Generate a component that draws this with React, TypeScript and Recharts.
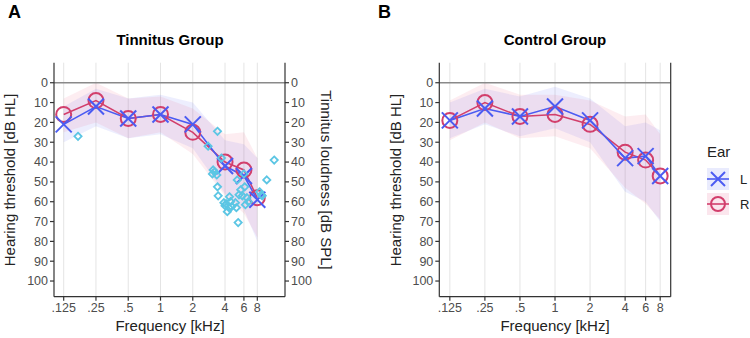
import React from "react";
import {
  ComposedChart,
  Line,
  Area,
  Scatter,
  XAxis,
  YAxis,
  CartesianGrid,
  ReferenceLine,
} from "recharts";

// audiogram frequencies (kHz) and their tick labels
const freqs = [0.125, 0.25, 0.5, 1, 2, 4, 6, 8];
const freqLabels = [".125", ".25", ".5", "1", "2", "4", "6", "8"];
const dbTicks = [0, 10, 20, 30, 40, 50, 60, 70, 80, 90, 100];

// tinnitus group: mean thresholds per ear + spread band
const tinL = [21, 12, 18, 16, 21, 42, 47, 59];
const tinR = [16, 9, 18, 16, 25, 40, 44, 58];
const tinLBand = [[12, 30], [3, 22], [8, 28], [6, 26], [10, 33], [29, 56], [31, 64], [38, 80]];
const tinRBand = [[8, 25], [0, 20], [8, 28], [7, 25], [13, 36], [26, 57], [25, 66], [38, 78]];

// control group
const ctrlL = [19, 13, 17, 12, 19, 38, 37, 47];
const ctrlR = [19, 10, 17, 16, 21, 35, 39, 47];
const ctrlLBand = [[10, 28], [3, 21], [7, 27], [2, 23], [8, 30], [22, 55], [20, 60], [24, 70]];
const ctrlRBand = [[9, 29], [0, 20], [6, 28], [6, 27], [9, 33], [17, 53], [16, 61], [26, 69]];

// tinnitus pitch (kHz) and loudness (dB SPL)
const tinnitusFreq = [0.17, 2.78, 3.4, 3.7, 3.05, 3.2, 3.35, 3.1, 3.4, 3.45, 3.9, 4.0, 4.1, 4.2, 4.35, 4.4, 4.6, 4.5, 5.0, 5.1, 5.2, 5.3, 5.4, 5.6, 5.8, 6.0, 6.1, 6.2, 6.4, 6.6, 8.4, 8.7, 8.9, 9.8, 11.5];
const tinnitusLoud = [27, 32, 24.5, 38, 46, 45, 46.5, 44, 52.5, 57, 60.5, 62, 61, 65, 63, 57.5, 62.5, 60, 60.5, 63, 49, 70.5, 56.5, 54, 57, 46, 52.5, 61.5, 58, 60, 55, 56.5, 57, 49, 39];

const BLUE = "#4b5cf2";
const RED = "#d23f6c";
const CYAN = "#5cc6e4";
const FONT = "'Liberation Sans', Arial, Helvetica, sans-serif";

const majorY = [-10, 0, 10, 20, 30, 40, 50, 60, 70, 80, 90, 100];
const minorY = [-5, 5, 15, 25, 35, 45, 55, 65, 75, 85, 95, 105];
const yDomain = [-10.1, 107.9];

const buildRows = (l: number[], r: number[], lb: number[][], rb: number[][]) =>
  freqs.map((f, i) => ({ f, L: l[i], R: r[i], lBand: lb[i], rBand: rb[i] }));

const tinRows = buildRows(tinL, tinR, tinLBand, tinRBand);
const ctrlRows = buildRows(ctrlL, ctrlR, ctrlLBand, ctrlRBand);
const tinnitusPts = tinnitusFreq.map((f, i) => ({ f, v: tinnitusLoud[i] }));

const fmtFreq = (v: number) => freqLabels[freqs.indexOf(v)] ?? String(v);
const tickStyle = { fontSize: 12.5, fill: "#4d4d4d", fontFamily: FONT };
const axisStroke = { stroke: "#333", strokeWidth: 1.2 };

const XMark = ({ cx, cy, color = BLUE, s = 8 }: any) => (
  <g stroke={color} strokeWidth={2} fill="none">
    <line x1={cx - s} y1={cy - s} x2={cx + s} y2={cy + s} />
    <line x1={cx - s} y1={cy + s} x2={cx + s} y2={cy - s} />
  </g>
);

const Diamond = (props: any) => {
  const { cx, cy } = props;
  const s = 3.6;
  return (
    <path
      d={`M${cx},${cy - s}L${cx + s},${cy}L${cx},${cy + s}L${cx - s},${cy}Z`}
      fill="none"
      stroke={CYAN}
      strokeWidth={1.8}
    />
  );
};

const renderX = (p: any) => <XMark key={`x-${p.index}`} cx={p.cx} cy={p.cy} />;
const renderO = (p: any) => (
  <circle key={`o-${p.index}`} cx={p.cx} cy={p.cy} r={7.5} fill="none" stroke={RED} strokeWidth={2} />
);

const Panel = ({ rows, xMax, width, margin, leftW, rightW, showRight, scatter }: any) => (
  <ComposedChart width={width} height={338} data={rows} margin={margin}>
    <CartesianGrid horizontalValues={minorY} vertical={false} stroke="#f1f1f1" />
    <CartesianGrid horizontalValues={majorY} verticalValues={freqs} stroke="#e4e4e4" />
    <XAxis
      dataKey="f"
      type="number"
      scale="log"
      domain={[0.1015, xMax]}
      allowDataOverflow
      ticks={freqs}
      interval={0}
      tickFormatter={fmtFreq}
      tick={tickStyle}
      tickSize={4}
      tickMargin={2}
      height={30}
      axisLine={axisStroke}
      tickLine={axisStroke}
    />
    <YAxis
      yAxisId="left"
      type="number"
      domain={yDomain}
      allowDataOverflow
      reversed
      ticks={dbTicks}
      interval={0}
      width={leftW}
      tick={tickStyle}
      tickSize={4}
      tickMargin={2}
      axisLine={axisStroke}
      tickLine={axisStroke}
    />
    <YAxis
      yAxisId="right"
      orientation="right"
      type="number"
      domain={yDomain}
      allowDataOverflow
      reversed
      ticks={dbTicks}
      interval={0}
      width={rightW}
      tick={showRight ? { ...tickStyle, textAnchor: "start" } : false}
      tickSize={4}
      tickMargin={2}
      axisLine={axisStroke}
      tickLine={showRight ? axisStroke : false}
    />
    <ReferenceLine yAxisId="left" y={0} stroke="#8a8a8a" strokeWidth={1.3} />
    <Area yAxisId="left" type="linear" dataKey="lBand" fill={BLUE} fillOpacity={0.1} stroke="none" isAnimationActive={false} />
    <Area yAxisId="left" type="linear" dataKey="rBand" fill="#e8537a" fillOpacity={0.1} stroke="none" isAnimationActive={false} />
    <Line yAxisId="left" type="linear" dataKey="R" stroke={RED} strokeWidth={1.6} dot={renderO} isAnimationActive={false} />
    <Line yAxisId="left" type="linear" dataKey="L" stroke={BLUE} strokeWidth={1.6} dot={renderX} isAnimationActive={false} />
    {scatter && (
      <Scatter yAxisId="right" data={scatter} dataKey="v" shape={<Diamond />} isAnimationActive={false} />
    )}
  </ComposedChart>
);

const Overlay = () => (
  <svg width={750} height={338} style={{ position: "absolute", left: 0, top: 0, pointerEvents: "none" }} fontFamily={FONT}>
    <text x={8} y={18} fontSize={18} fontWeight="bold" fill="#000">A</text>
    <text x={378} y={18} fontSize={18} fontWeight="bold" fill="#000">B</text>
    <text x={170} y={45} fontSize={15} fontWeight="bold" textAnchor="middle" fill="#000">Tinnitus Group</text>
    <text x={555} y={45} fontSize={15} fontWeight="bold" textAnchor="middle" fill="#000">Control Group</text>
    <text x={170} y={331} fontSize={15} textAnchor="middle" fill="#222">Frequency [kHz]</text>
    <text x={555} y={331} fontSize={15} textAnchor="middle" fill="#222">Frequency [kHz]</text>
    <text x={15} y={180} fontSize={15} textAnchor="middle" fill="#222" transform="rotate(-90 15 180)">Hearing threshold [dB HL]</text>
    <text x={401} y={180} fontSize={15} textAnchor="middle" fill="#222" transform="rotate(-90 401 180)">Hearing threshold [dB HL]</text>
    <text x={321} y={180} fontSize={15} textAnchor="middle" fill="#222" transform="rotate(90 321 180)">Tinnitus loudness [dB SPL]</text>
    {/* legend */}
    <text x={707} y={157} fontSize={15} fill="#222">Ear</text>
    <rect x={707} y={168} width={22} height={22} fill="#e9ebfd" />
    <line x1={707} y1={179} x2={729} y2={179} stroke={BLUE} strokeWidth={1.6} />
    <XMark cx={718} cy={179} s={7} />
    <text x={740} y={184} fontSize={13} fill="#222">L</text>
    <rect x={707} y={193} width={22} height={22} fill="#fbe6ed" />
    <line x1={707} y1={204} x2={729} y2={204} stroke={RED} strokeWidth={1.6} />
    <circle cx={718} cy={204} r={7} fill="none" stroke={RED} strokeWidth={2} />
    <text x={740} y={209} fontSize={13} fill="#222">R</text>
  </svg>
);

export default function App() {
  return (
    <div style={{ position: "absolute", left: 0, top: 0, width: 750, height: 338, background: "#fff" }}>
      <div style={{ position: "absolute", left: 0, top: 0 }}>
        <Panel
          rows={tinRows}
          xMax={14.5}
          width={340}
          margin={{ top: 62.7, right: 15, bottom: 11.3, left: 14 }}
          leftW={40}
          rightW={40}
          showRight
          scatter={tinnitusPts}
        />
      </div>
      <div style={{ position: "absolute", left: 380, top: 0 }}>
        <Panel
          rows={ctrlRows}
          xMax={9.85}
          width={300}
          margin={{ top: 62.7, right: 4.3, bottom: 11.3, left: 14.3 }}
          leftW={45}
          rightW={5}
          showRight={false}
        />
      </div>
      <Overlay />
    </div>
  );
}
